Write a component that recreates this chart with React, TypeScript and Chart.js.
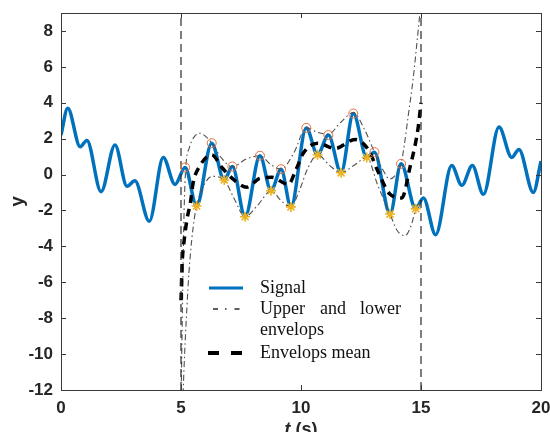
import React, { useEffect, useRef } from "react";
import { Chart, registerables } from "chart.js";

Chart.register(...registerables);

// ---- data ----
const signalT = [0, 0.28, 0.8, 1.08, 1.67, 2.25, 2.75, 3.08, 3.68, 4.26, 4.75, 5.17, 5.65, 6.28, 6.8, 7.14, 7.67, 8.29, 8.75, 9.17, 9.58, 10.22, 10.69, 11.14, 11.67, 12.18, 12.74, 13.06, 13.71, 14.17, 14.78, 15.1, 15.61, 16.28, 16.7, 17.14, 17.6, 18.25, 18.78, 19.08, 19.68, 20];
const signalY = [2.2, 3.7, 1.55, 1.9, -0.95, 1.65, -0.65, -0.35, -2.6, 0.95, -0.55, 0.4, -1.75, 1.75, -0.3, 0.45, -2.35, 1.05, -0.9, 0.3, -1.8, 2.6, 1.1, 2.2, 0.1, 3.4, 0.95, 1.25, -2.2, 0.6, -1.9, -1.3, -3.35, 0.5, -0.6, 0.5, -1.1, 2.65, 0.95, 1.4, -1.0, 0.75];

const peakT = [5.17, 6.28, 7.14, 8.29, 9.17, 10.22, 11.14, 12.18, 13.06, 14.17];
const peakY = [0.4, 1.75, 0.45, 1.05, 0.3, 2.6, 2.2, 3.4, 1.25, 0.6];

const troughT = [5.65, 6.8, 7.67, 8.75, 9.58, 10.69, 11.67, 12.74, 13.71, 14.78];
const troughY = [-1.75, -0.3, -2.35, -0.9, -1.8, 1.1, 0.1, 0.95, -2.2, -1.9];

const upperT = [5.0, 5.07, 5.13, 5.2, 5.35, 5.55, 5.8, 6.05, 6.28, 6.7, 7.14, 7.7, 8.29, 8.75, 9.17, 9.7, 10.22, 10.7, 11.14, 11.65, 12.18, 12.65, 13.06, 13.4, 13.7, 14.0, 14.17, 14.3, 14.47, 14.67, 14.88, 15.0];
const upperY = [-13, -6.5, -2.0, 0.4, 1.5, 2.1, 2.3, 2.1, 1.75, 0.9, 0.43, 0.85, 1.05, 0.55, 0.3, 1.2, 2.6, 2.35, 2.25, 2.9, 3.45, 2.5, 1.25, 0.3, -0.25, 0.1, 0.6, 1.6, 3.3, 5.3, 8.0, 9.6];

const lowerT = [5.0, 5.12, 5.25, 5.33, 5.45, 5.55, 5.65, 5.95, 6.3, 6.8, 7.2, 7.67, 8.2, 8.75, 9.2, 9.58, 9.9, 10.3, 10.69, 11.2, 11.67, 12.2, 12.74, 13.2, 13.71, 14.0, 14.33, 14.6, 14.78, 15.0];
const lowerY = [-16, -11, -7.3, -5.5, -3.6, -2.5, -1.75, -0.6, -0.1, -0.3, -1.3, -2.35, -1.7, -0.9, -1.5, -1.8, -1.0, 0.4, 1.1, 0.5, 0.1, 0.5, 0.95, -0.6, -2.2, -3.1, -3.4, -2.8, -1.9, -1.3];

const meanT = [5.0, 5.05, 5.12, 5.25, 5.4, 5.5, 5.75, 6.28, 6.7, 7.17, 7.74, 8.3, 8.78, 9.47, 9.8, 10.1, 10.7, 11.42, 12.25, 12.8, 13.2, 13.71, 14.2, 14.54, 14.88, 15.0];
const meanY = [-7.0, -4.9, -3.8, -2.5, -1.5, -0.5, 0.4, 1.1, 0.4, -0.25, -0.7, -0.2, -0.15, -0.55, 0.3, 1.2, 1.75, 1.45, 1.95, 1.4, 0.2, -1.1, -1.3, 0.4, 2.6, 4.0];

const boundaryT = [5, 15];

const xTicks = [0, 5, 10, 15, 20];
const yTicks = [-12, -10, -8, -6, -4, -2, 0, 2, 4, 6, 8];
const xMin = 0, xMax = 20, yMin = -12, yMax = 9;

const legendLabels = ["Signal", "Upper and lower", "envelops", "Envelops mean"];
const xTitleItalic = "t";
const xTitleRest = " (s)";
const yTitle = "y";

const pts = (t: number[], y: number[]) => t.map((v, i) => ({ x: v, y: y[i] }));

const SANS = '"Liberation Sans", Arial, Helvetica, sans-serif';
const SERIF = '"Liberation Serif", "Times New Roman", serif';
const AXIS_COLOR = "#3a3a3a";
const BLUE = "#0072BD";

const decorPlugin = {
  id: "decor",
  afterDraw(chart: any) {
    const { ctx, chartArea } = chart;
    const { left, right, top, bottom } = chartArea;
    const xs = chart.scales.x;
    const ys = chart.scales.y;
    ctx.save();
    // box
    ctx.strokeStyle = AXIS_COLOR;
    ctx.lineWidth = 1;
    ctx.setLineDash([]);
    ctx.strokeRect(Math.round(left) + 0.5, Math.round(top) + 0.5, Math.round(right - left), Math.round(bottom - top));
    // inward ticks
    const tl = 5;
    ctx.beginPath();
    xTicks.forEach((v) => {
      const px = Math.round(xs.getPixelForValue(v)) + 0.5;
      ctx.moveTo(px, bottom);
      ctx.lineTo(px, bottom - tl);
      ctx.moveTo(px, top);
      ctx.lineTo(px, top + tl);
    });
    yTicks.forEach((v) => {
      const py = Math.round(ys.getPixelForValue(v)) + 0.5;
      ctx.moveTo(left, py);
      ctx.lineTo(left + tl, py);
      ctx.moveTo(right, py);
      ctx.lineTo(right - tl, py);
    });
    ctx.stroke();

    // axis titles
    ctx.fillStyle = "#262626";
    ctx.font = `italic bold 18px ${SANS}`;
    const w1 = ctx.measureText(xTitleItalic).width;
    ctx.font = `bold 18px ${SANS}`;
    const w2 = ctx.measureText(xTitleRest).width;
    const cx = (left + right) / 2;
    const sx = cx - (w1 + w2) / 2;
    ctx.textBaseline = "alphabetic";
    ctx.textAlign = "left";
    ctx.font = `italic bold 18px ${SANS}`;
    ctx.fillText(xTitleItalic, sx, bottom + 45);
    ctx.font = `bold 18px ${SANS}`;
    ctx.fillText(xTitleRest, sx + w1, bottom + 45);

    ctx.save();
    ctx.translate(left - 43, (top + bottom) / 2);
    ctx.rotate(-Math.PI / 2);
    ctx.textAlign = "center";
    ctx.textBaseline = "middle";
    ctx.font = `bold 19px ${SANS}`;
    ctx.fillText(yTitle, 0, 0);
    ctx.restore();

    // legend
    const lx0 = left + 148;
    const lx1 = left + 182;
    const tx = left + 199;
    const r1 = top + 275, r2 = top + 296, r3 = top + 317, r4 = top + 340;
    // signal sample
    ctx.beginPath();
    ctx.strokeStyle = BLUE;
    ctx.lineWidth = 3;
    ctx.setLineDash([]);
    ctx.moveTo(lx0, r1);
    ctx.lineTo(lx1, r1);
    ctx.stroke();
    // dash-dot sample
    ctx.beginPath();
    ctx.strokeStyle = "#2a2a2a";
    ctx.lineWidth = 1.3;
    ctx.setLineDash([5, 7, 1.5, 8]);
    ctx.moveTo(lx0 + 4, r2);
    ctx.lineTo(lx1 - 1, r2);
    ctx.stroke();
    // mean sample
    ctx.beginPath();
    ctx.strokeStyle = "#000";
    ctx.lineWidth = 4;
    ctx.setLineDash([11, 12]);
    ctx.moveTo(lx0 - 1, r4);
    ctx.lineTo(lx1 + 1, r4);
    ctx.stroke();
    ctx.setLineDash([]);

    ctx.fillStyle = "#111";
    ctx.font = `18px ${SERIF}`;
    ctx.textBaseline = "middle";
    ctx.textAlign = "left";
    ctx.fillText(legendLabels[0], tx, r1);
    const words = legendLabels[1].split(" ");
    const justifyRight = tx + 141;
    ctx.fillText(words[0], tx, r2);
    ctx.textAlign = "center";
    ctx.fillText(words[1], tx + 73, r2);
    ctx.textAlign = "right";
    ctx.fillText(words[2], justifyRight, r2);
    ctx.textAlign = "left";
    ctx.fillText(legendLabels[2], tx, r3);
    ctx.fillText(legendLabels[3], tx, r4);
    ctx.restore();
  },
};

export default function App() {
  const ref = useRef<HTMLCanvasElement | null>(null);
  useEffect(() => {
    if (!ref.current) return;
    const envStyle = {
      borderColor: "#505050",
      borderWidth: 1.1,
      borderDash: [6, 3, 1.5, 3],
      pointRadius: 0,
      cubicInterpolationMode: "monotone" as const,
      fill: false,
      order: 8,
    };
    const chart = new Chart(ref.current, {
      type: "line",
      data: {
        datasets: [
          {
            label: "Signal",
            data: pts(signalT, signalY),
            borderColor: BLUE,
            borderWidth: 3.5,
            pointRadius: 0,
            cubicInterpolationMode: "monotone",
            order: 10,
          },
          { label: "Upper envelope", data: pts(upperT, upperY), ...envStyle },
          { label: "Lower envelope", data: pts(lowerT, lowerY), ...envStyle },
          {
            label: "Envelops mean",
            data: pts(meanT, meanY),
            borderColor: "#000",
            borderWidth: 3.5,
            borderDash: [8, 6],
            pointRadius: 0,
            cubicInterpolationMode: "monotone",
            order: 7,
          },
          ...boundaryT.map((t) => ({
            label: "boundary " + t,
            data: [
              { x: t, y: yMin },
              { x: t, y: yMax },
            ],
            borderColor: "#2a2a2a",
            borderWidth: 1.2,
            borderDash: [8, 5],
            pointRadius: 0,
            order: 6,
          })),
          {
            label: "Maxima",
            data: pts(peakT, peakY),
            showLine: false,
            pointStyle: "circle",
            pointRadius: 4.5,
            pointBorderWidth: 1,
            pointBorderColor: "#E07040",
            pointBackgroundColor: "rgba(0,0,0,0)",
            order: 5,
          },
          {
            label: "Minima",
            data: pts(troughT, troughY),
            showLine: false,
            pointStyle: "star",
            pointRadius: 5,
            pointBorderWidth: 1.6,
            pointBorderColor: "#EDB120",
            pointBackgroundColor: "#EDB120",
            order: 4,
          },
        ],
      },
      options: {
        animation: false,
        responsive: true,
        maintainAspectRatio: false,
        events: [],
        layout: { padding: { left: 0, right: 9, top: 13, bottom: 0 } },
        plugins: { legend: { display: false }, tooltip: { enabled: false } },
        scales: {
          x: {
            type: "linear",
            min: xMin,
            max: xMax,
            afterBuildTicks: (s: any) => {
              s.ticks = xTicks.map((v) => ({ value: v }));
            },
            afterFit: (s: any) => {
              s.height = 42;
              s.paddingLeft = 0;
              s.paddingRight = 0;
            },
            grid: { display: false, drawTicks: false },
            border: { display: false },
            ticks: {
              autoSkip: false,
              maxRotation: 0,
              padding: 8,
              color: "#262626",
              font: { family: SANS, size: 17, weight: "bold" },
            },
          },
          y: {
            type: "linear",
            min: yMin,
            max: yMax,
            afterBuildTicks: (s: any) => {
              s.ticks = yTicks.map((v) => ({ value: v }));
            },
            afterFit: (s: any) => {
              s.width = 61;
              s.paddingTop = 0;
              s.paddingBottom = 0;
            },
            grid: { display: false, drawTicks: false },
            border: { display: false },
            ticks: {
              autoSkip: false,
              padding: 8,
              color: "#262626",
              font: { family: SANS, size: 17, weight: "bold" },
            },
          },
        },
      },
      plugins: [decorPlugin],
    } as any);
    return () => chart.destroy();
  }, []);

  return (
    <div style={{ position: "fixed", left: 0, top: 0, width: 550, height: 432, background: "#fff" }}>
      <canvas ref={ref} />
    </div>
  );
}
